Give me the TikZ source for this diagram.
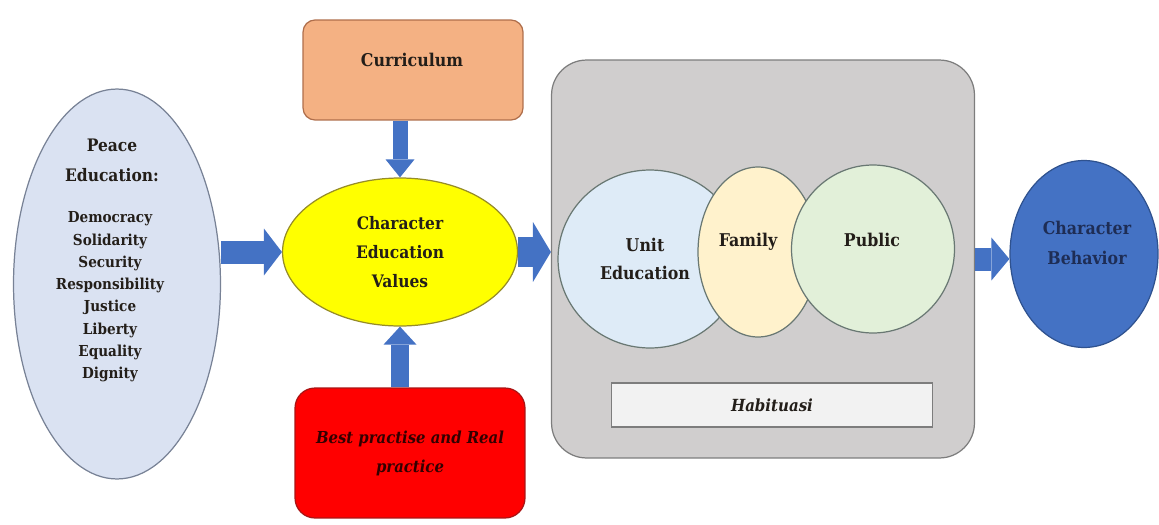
\documentclass[tikz,border=0pt]{standalone}
\usepackage{fontspec}
\setmainfont{DejaVu Serif Condensed}
\usetikzlibrary{arrows.meta,shapes.geometric}

\definecolor{arrowblue}{RGB}{68,114,196}
\definecolor{peacefill}{RGB}{218,226,242}
\definecolor{peaceline}{RGB}{120,130,150}
\definecolor{curfill}{RGB}{244,177,131}
\definecolor{curline}{RGB}{175,110,75}
\definecolor{valfill}{RGB}{255,255,0}
\definecolor{valline}{RGB}{150,140,40}
\definecolor{bestline}{RGB}{170,20,20}
\definecolor{habfill}{RGB}{208,206,206}
\definecolor{habline}{RGB}{125,125,125}
\definecolor{barfill}{RGB}{242,242,242}
\definecolor{unitfill}{RGB}{222,235,247}
\definecolor{famfill}{RGB}{255,242,204}
\definecolor{pubfill}{RGB}{226,240,217}
\definecolor{setline}{RGB}{105,120,115}
\definecolor{behline}{RGB}{47,82,143}
\definecolor{behtext}{RGB}{30,45,85}
\definecolor{ink}{RGB}{35,30,25}

\begin{document}
\begin{tikzpicture}[x=0.02cm,y=-0.02cm,font=\bfseries,text=ink,
  oval/.style={ellipse,inner sep=0pt,line width=0.7pt},
  flow/.style 2 args={draw=arrowblue,line width=#1,
    -{Triangle[width=#2,length=0.36cm,line width=0pt]}},
]
\useasboundingbox (0,0) rectangle (1159,524);

% left side
\node[oval,draw=peaceline,fill=peacefill,minimum width=4.14cm,minimum height=7.8cm] (peace) at (117,284) {};
\node[align=center,font=\bfseries\fontsize{9.8}{17}\selectfont] (peacehead) at (112,160) {Peace\\Education:};
\node[align=center,font=\bfseries\fontsize{8.6}{12.7}\selectfont] (peacelist) at (110,297)
  {Democracy\\Solidarity\\Security\\Responsibility\\Justice\\Liberty\\Equality\\Dignity};

% middle column
\node[oval,draw=valline,fill=valfill,minimum width=4.7cm,minimum height=2.96cm,
  align=center,font=\bfseries\fontsize{9.8}{16.5}\selectfont] (values) at (400,252)
  {Character\\Education\\Values};
\node[draw=curline,fill=curfill,rounded corners=0.24cm,minimum width=4.4cm,minimum height=2cm,
  line width=0.7pt] (curr) at (413,70) {};
\node[font=\bfseries\fontsize{10}{11}\selectfont] (currtxt) at (412,60) {Curriculum};
\node[draw=bestline,fill=red,rounded corners=0.4cm,minimum width=4.6cm,minimum height=2.6cm,
  line width=0.7pt,align=center,font=\bfseries\itshape\fontsize{9.4}{16.5}\selectfont,text=black!80!red]
  (best) at (410,453) {Best practise and Real\\practice};

% habituation block
\node[draw=habline,fill=habfill,rounded corners=0.7cm,minimum width=8.46cm,minimum height=7.96cm,
  line width=0.7pt] (hab) at (763,259) {};
\node[oval,draw=setline,fill=unitfill,minimum width=3.68cm,minimum height=3.56cm] (unit) at (650,259) {};
\node[oval,draw=setline,fill=famfill,minimum width=2.4cm,minimum height=3.4cm] (family) at (758,252) {};
\node[oval,draw=setline,fill=pubfill,minimum width=3.26cm,minimum height=3.36cm] (public) at (873,249) {};
\node[align=center,font=\bfseries\fontsize{10}{16}\selectfont] (unittxt) at (645,259) {Unit\\Education};
\node[font=\bfseries\fontsize{10}{11}\selectfont] (familytxt) at (748,242) {Family};
\node[font=\bfseries\fontsize{10}{11}\selectfont] (publictxt) at (872,240) {Public};
\node[draw=habline,fill=barfill,minimum width=6.42cm,minimum height=0.88cm,line width=0.7pt,
  font=\bfseries\itshape\fontsize{9.5}{10}\selectfont] (bar) at (772,405) {Habituasi};

% right side
\node[oval,draw=behline,fill=arrowblue,minimum width=2.96cm,minimum height=3.74cm] (beh) at (1084,254) {};
\node[align=center,text=behtext,font=\bfseries\fontsize{10}{17}\selectfont] (behtxt) at (1087,243) {Character\\Behavior};

% arrows
\draw[flow={0.46cm}{0.94cm}] (values.west -| peace.east) -- (values.west);
\draw[flow={0.3cm}{0.58cm}] (values.north |- curr.south) -- (values.north);
\draw[flow={0.36cm}{0.66cm}] (values.south |- best.north) -- (values.south);
\draw[flow={0.6cm}{1.2cm}] (values.east) -- (values.east -| hab.west);
\draw[flow={0.46cm}{0.86cm}] (hab.east) -- (hab.east -| beh.west);
\end{tikzpicture}
\end{document}
